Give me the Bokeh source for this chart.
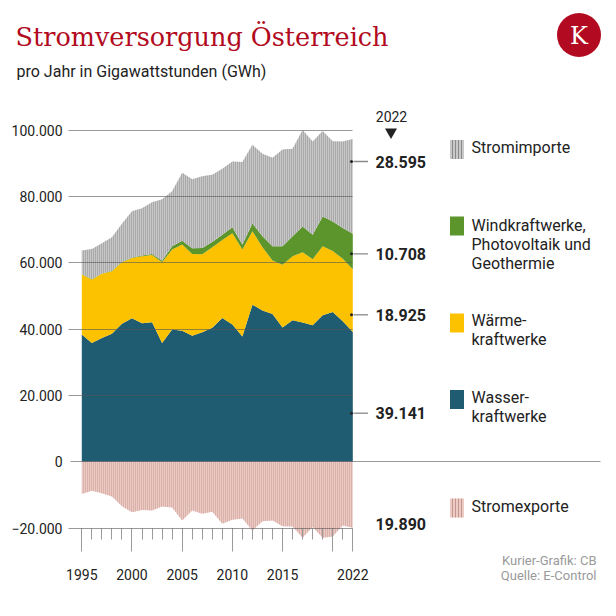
from bokeh.plotting import figure
from bokeh.models import Label, FixedTicker, Grid, ColumnDataSource
from bokeh.embed import file_html
from bokeh.resources import INLINE

# ---------------- data (GWh per year) ----------------
years = list(range(1995, 2023))
hydro = [38400, 35800, 37300, 38600, 41600, 43300, 41800, 42100, 35800, 39900,
         39500, 38000, 39100, 40400, 43400, 41400, 37800, 47400, 45600, 44600,
         40500, 42700, 42000, 41200, 44200, 45200, 42400, 39141]
thermal = [18100, 19200, 19400, 18900, 18600, 18200, 20200, 20300, 24400, 24100,
           26000, 24700, 23500, 24300, 23500, 27500, 26200, 22100, 19100, 16100,
           18900, 19300, 21200, 19900, 20800, 18400, 18800, 18925]
renewables = [100, 100, 100, 100, 100, 100, 200, 300, 400, 1000,
              1200, 1700, 1900, 1600, 1600, 1800, 1500, 2400, 3300, 4300,
              5600, 6000, 7800, 7400, 9000, 8900, 9300, 10708]
imports = [7100, 9100, 9100, 10100, 11500, 14000, 14300, 15600, 18600, 16600,
           20500, 20800, 21600, 20300, 19900, 19900, 24900, 23700, 24900, 26700,
           29200, 26400, 29100, 28100, 25800, 24200, 26100, 28595]
exports = [9700, 8700, 9500, 10500, 13400, 15200, 14500, 14700, 13500, 13800,
           17700, 14700, 15700, 15100, 18700, 17500, 17100, 20700, 17900, 17700,
           19400, 19500, 22900, 19700, 22900, 22500, 19200, 19890]

y_ticks = [-20000, 0, 20000, 40000, 60000, 80000, 100000]
y_tick_labels = ["\u221220.000", "0", "20.000", "40.000", "60.000", "80.000", "100.000"]
x_major = [1995, 2000, 2005, 2010, 2015, 2020, 2022]
x_major_labels = ["1995", "2000", "2005", "2010", "2015", "", "2022"]

legend_texts = [["Stromimporte"],
                ["Windkraftwerke,", "Photovoltaik und", "Geothermie"],
                ["Wärme-", "kraftwerke"],
                ["Wasser-", "kraftwerke"],
                ["Stromexporte"]]

# ---------------- colours ----------------
C_IMP_FILL, C_IMP_HATCH = "#c8c8c8", "#8a8a8a"
C_EXP_FILL, C_EXP_HATCH = "#edcbc5", "#c4958e"
C_REN = "#5c952c"
C_THE = "#fcc200"
C_HYD = "#1f5b71"
C_RED = "#b20a20"
C_TXT = "#222222"

# ---------------- pixel helpers (page px -> data) ----------------
def X(px):
    return 1995 + (px - 81.3) / (271.0 / 27.0)

def Y(py):
    return (461.3 - py) / 0.0033158

W, H = 606, 600

n = len(years)
h_top = hydro
t_top = [a + b for a, b in zip(h_top, thermal)]
r_top = [a + b for a, b in zip(t_top, renewables)]
i_top = [a + b for a, b in zip(r_top, imports)]
e_bot = [-e for e in exports]

src = ColumnDataSource(dict(year=years, zero=[0] * n, h=h_top, t=t_top,
                            r=r_top, i=i_top, e=e_bot))

p = figure(width=W, height=H, x_range=(X(0), X(W)), y_range=(Y(H), Y(0)),
           output_backend="svg", toolbar_location=None,
           min_border_left=0, min_border_right=0, min_border_top=0, min_border_bottom=0)
p.outline_line_color = None
p.background_fill_color = "white"
p.border_fill_color = "white"

# areas
p.varea(x="year", y1="zero", y2="h", source=src, fill_color=C_HYD)
p.varea(x="year", y1="h", y2="t", source=src, fill_color=C_THE)
p.varea(x="year", y1="t", y2="r", source=src, fill_color=C_REN)
p.varea(x="year", y1="r", y2="i", source=src, fill_color=C_IMP_FILL,
        hatch_pattern="|", hatch_color=C_IMP_HATCH, hatch_scale=2, hatch_weight=1)
p.varea(x="year", y1="zero", y2="e", source=src, fill_color=C_EXP_FILL,
        hatch_pattern="|", hatch_color=C_EXP_HATCH, hatch_scale=2, hatch_weight=1)

# axes (fixed inside the frame)
xa = p.xaxis[0]
xa.fixed_location = -20000
xa.ticker = FixedTicker(ticks=x_major, minor_ticks=years)
xa.major_label_overrides = dict(zip(x_major, x_major_labels))
xa.axis_line_color = None
xa.major_tick_in = 0
xa.major_tick_out = 23
xa.minor_tick_in = 0
xa.minor_tick_out = 11
xa.major_tick_line_color = "#9a9a9a"
xa.minor_tick_line_color = "#9a9a9a"
xa.major_label_standoff = 18
xa.major_label_text_font = "Roboto"
xa.major_label_text_font_size = "14px"
xa.major_label_text_color = C_TXT

ya = p.yaxis[0]
ya.fixed_location = X(68)
ya.ticker = FixedTicker(ticks=y_ticks, minor_ticks=[])
ya.major_label_overrides = dict(zip(y_ticks, y_tick_labels))
ya.axis_line_color = None
ya.major_tick_in = 0
ya.major_tick_out = 0
ya.minor_tick_in = 0
ya.minor_tick_out = 0
ya.major_label_standoff = 6
ya.major_label_text_font = "Roboto"
ya.major_label_text_font_size = "14px"
ya.major_label_text_color = C_TXT

p.xgrid.visible = False
g = p.ygrid[0]
g.ticker = FixedTicker(ticks=[t for t in y_ticks if t != 0])
g.grid_line_color = "#555555"
g.grid_line_alpha = 0.6
g.level = "overlay"
zg = Grid(dimension=1, ticker=FixedTicker(ticks=[0]), grid_line_color="#555555",
          grid_line_alpha=0.6, level="overlay")
if "cross_bounds" in Grid.properties():
    g.cross_bounds = (X(68), 2022)
    zg.cross_bounds = (X(70), X(600))
    p.add_layout(zg)
else:
    g.visible = False
    gl = [t for t in y_ticks if t != 0]
    p.segment(x0=[X(68)] * len(gl), x1=[2022] * len(gl), y0=gl, y1=gl,
              line_color="#555555", line_alpha=0.6, level="overlay")
    p.segment(x0=[X(70)], x1=[X(600)], y0=[0], y1=[0],
              line_color="#555555", line_alpha=0.6, level="overlay")

# ---------------- texts ----------------
def lab(text, px, py, size, font="Roboto", color=C_TXT, align="left",
        baseline="middle", style="normal"):
    p.add_layout(Label(x=X(px), y=Y(py), text=text, text_font=font,
                       text_font_size=f"{size}px", text_color=color,
                       text_align=align, text_baseline=baseline,
                       text_font_style=style))

lab("Stromversorgung Österreich", 15, 36, 25.5, font="DejaVu Serif", color=C_RED)
lab("pro Jahr in Gigawattstunden (GWh)", 16, 71, 16)

# logo
p.scatter(x=[X(578.5)], y=[Y(34.5)], marker="circle", size=44, fill_color=C_RED,
          line_color=None)
lab("K", 578.5, 35, 24, font="DejaVu Serif", color="white", align="center")

# year marker
lab("2022", 391, 116, 14, align="center")
p.scatter(x=[X(390.5)], y=[Y(131.5)], marker="inverted_triangle", size=12,
          fill_color=C_TXT, line_color=None)

# value annotations for 2022
fmt = lambda v: f"{v:,}".replace(",", ".")
ann_y = [161, 253.3, 314.3, 412.7]
ann_v = [imports[-1], renewables[-1], thermal[-1], hydro[-1]]
p.segment(x0=[X(353)] * 4, x1=[X(367.5)] * 4, y0=[Y(v) for v in ann_y],
          y1=[Y(v) for v in ann_y], line_color="#8a8a8a", line_width=1.3)
p.scatter(x=[X(351)] * 4, y=[Y(v) for v in ann_y], marker="circle", size=3,
          fill_color=C_TXT, line_color=None)
for yy, vv in zip(ann_y, ann_v):
    lab(fmt(vv), 375, yy, 16, style="bold")
lab(fmt(exports[-1]), 375, 523.3, 16, style="bold")

# legend
sw_y = [149, 225.5, 322.5, 399, 507.5]
sw_fill = [C_IMP_FILL, C_REN, C_THE, C_HYD, C_EXP_FILL]
sw_hatch = [C_IMP_HATCH, None, None, None, C_EXP_HATCH]
for yy, fc, hc in zip(sw_y, sw_fill, sw_hatch):
    kw = {}
    if hc:
        kw = dict(hatch_pattern="|", hatch_color=hc, hatch_scale=3, hatch_weight=1)
    p.rect(x=[X(456.5)], y=[Y(yy)], width=14, height=19, width_units="screen",
           height_units="screen", fill_color=fc, line_color=None, **kw)

leg_text_y = [[146.7], [225, 244.3, 263.3], [320, 339], [396.7, 415.7], [506]]
for lines, ys in zip(legend_texts, leg_text_y):
    for t, yy in zip(lines, ys):
        lab(t, 471, yy, 16)

# source
lab("Kurier-Grafik: CB", 596, 560, 13, color="#9a9a9a", align="right")
lab("Quelle: E-Control", 596, 575, 13, color="#9a9a9a", align="right")

open("out.html", "w").write(file_html(p, INLINE))
